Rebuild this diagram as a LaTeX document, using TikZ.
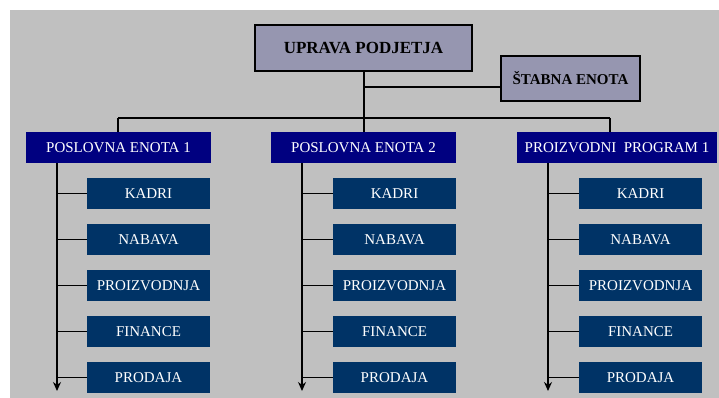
\documentclass[tikz,border=0pt]{standalone}
\usepackage{fontspec}
\setmainfont{Liberation Serif}
\usetikzlibrary{arrows.meta}
\definecolor{bgc}{RGB}{192,192,192}
\definecolor{topc}{RGB}{150,150,176}
\definecolor{navyc}{RGB}{0,0,128}
\definecolor{subc}{RGB}{0,51,102}
\tikzset{
  topbox/.style={draw=black, line width=2.6pt, fill=topc, inner sep=0pt, font=\bfseries\fontsize{17}{20}\selectfont},
  lvlbox/.style={fill=navyc, text=white, inner sep=0pt, minimum height=31pt, font=\fontsize{15}{18}\selectfont},
  subbox/.style={fill=subc, text=white, inner sep=0pt, minimum width=123pt, minimum height=31pt, font=\fontsize{15}{18}\selectfont},
  conn/.style={draw=black, line width=1.1pt},
  spine/.style={draw=black, line width=1.4pt, -{Stealth[length=9pt,width=8pt]}}
}
\begin{document}
\begin{tikzpicture}[x=1pt,y=-1pt]
\useasboundingbox (0,0) rectangle (719,398);
\fill[bgc] (10,10) rectangle (719,398);
% top
\node[topbox, minimum width=217pt, minimum height=46pt] (up) at (363.5,48) {UPRAVA PODJETJA};
\node[topbox, minimum width=139pt, minimum height=45pt, font=\bfseries\fontsize{15}{18}\selectfont] (st) at (570.5,78.5) {ŠTABNA ENOTA};
% level 2
\node[lvlbox, minimum width=185pt] (p1) at (118.5,147.5) {POSLOVNA ENOTA 1};
\node[lvlbox, minimum width=185pt] (p2) at (363.5,147.5) {POSLOVNA ENOTA 2};
\node[lvlbox, minimum width=200pt] (p3) at (617,147.5) {PROIZVODNI\ \ PROGRAM 1};
% bus coordinates
\coordinate (bm) at (364,118);
\coordinate (b1) at (118,118);
\coordinate (b3) at (610,118);
\coordinate (sj) at (364,87);
\draw[conn] (up.south -| bm) -- (bm);
\draw[conn] (sj) -- (st.west |- sj);
\draw[conn] (b1) -- (b3);
\draw[conn] (b1) -- (b1 |- p1.north);
\draw[conn] (bm) -- (bm |- p2.north);
\draw[conn] (b3) -- (b3 |- p3.north);
% sub boxes
\foreach \c/\x/\sx in {1/148.5/57, 2/394.5/302, 3/640.5/548} {
  \node[subbox] (k\c) at (\x,193.5) {KADRI};
  \node[subbox] (n\c) at (\x,239.5) {NABAVA};
  \node[subbox] (r\c) at (\x,285.5) {PROIZVODNJA};
  \node[subbox] (f\c) at (\x,331.5) {FINANCE};
  \node[subbox] (d\c) at (\x,377.5) {PRODAJA};
  \coordinate (s\c) at (\sx,391);
  \draw[spine] (p\c.south -| s\c) -- (s\c);
  \foreach \b in {k,n,r,f,d} {
    \draw[conn] (\b\c.west) -- (\b\c.west -| s\c);
  }
}
\end{tikzpicture}
\end{document}
